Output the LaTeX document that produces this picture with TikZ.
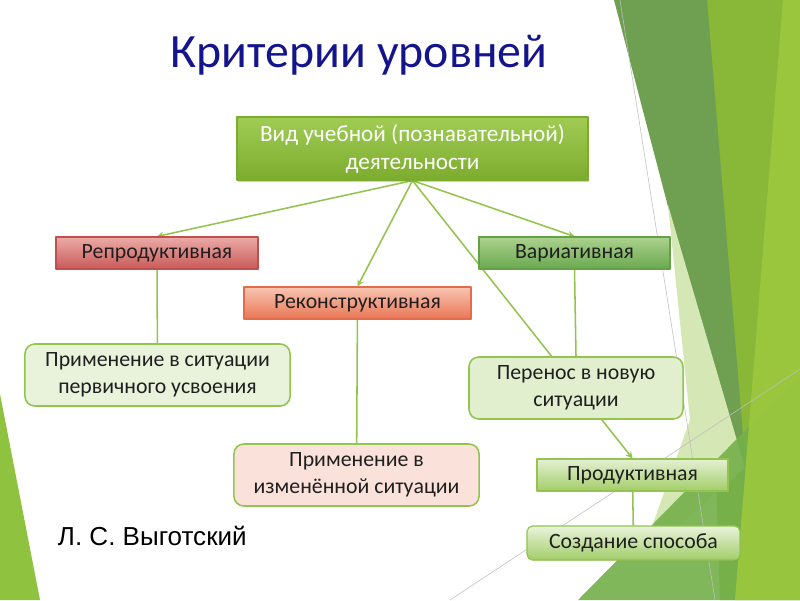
\documentclass[tikz,border=0pt]{standalone}
\usepackage{fontspec}
\setmainfont{Carlito}
\newfontfamily\authorfont{Liberation Sans}
\usetikzlibrary{arrows, calc, shadows}
\pgfdeclarelayer{deco}
\pgfdeclarelayer{edges}
\pgfsetlayers{deco,edges,main}
\definecolor{navy}{RGB}{20,20,140}
\definecolor{lgreen}{RGB}{146,196,78}
\definecolor{dband}{RGB}{111,159,80}
\definecolor{bright}{RGB}{137,183,55}
\definecolor{lime}{RGB}{156,200,62}
\definecolor{midg}{RGB}{116,176,74}
\definecolor{pale}{RGB}{213,231,181}
\definecolor{strip}{RGB}{143,194,62}
\definecolor{reprtop}{RGB}{236,170,168}
\definecolor{reprbot}{RGB}{200,90,87}
\definecolor{reprline}{RGB}{192,80,77}
\definecolor{recontop}{RGB}{248,197,178}
\definecolor{reconbot}{RGB}{233,118,84}
\definecolor{reconline}{RGB}{228,108,74}
\definecolor{vartop}{RGB}{172,210,142}
\definecolor{varbot}{RGB}{106,168,79}
\definecolor{varline}{RGB}{100,160,70}
\definecolor{toptop}{RGB}{160,204,84}
\definecolor{topbot}{RGB}{124,172,46}
\tikzset{
box/.style={draw, line width=0.8pt, align=center, inner sep=2pt, text=black!88, font=\fontsize{15.5}{19}\selectfont},
flat/.style={box, drop shadow={opacity=0.25, shadow xshift=0.6pt, shadow yshift=-0.8pt}},
leaf/.style={box, rounded corners=7pt, draw=lgreen, line width=1.1pt},
link/.style={draw=lgreen, line width=1.1pt}
}
\begin{document}
\begin{tikzpicture}[x=0.025cm,y=-0.025cm,line join=round,>=stealth]
\useasboundingbox (0,0) rectangle (800,600);
\begin{pgfonlayer}{deco}
\fill[white] (0,0) rectangle (800,600);
\fill[bright] (700,0)--(800,0)--(800,600)--(720,600)--cycle;
\fill[dband] (614,0)--(707,0)--(750,520)--cycle;
\fill[pale] (668,205)--(745,468)--(640,560)--(690,420)--cycle;
\fill[midg, opacity=0.9] (578,600)--(800,375)--(800,600)--cycle;
\fill[lime, opacity=0.9] (783,0)--(800,0)--(800,600)--(735,600)--cycle;
\fill[strip] (0,394)--(40,600)--(0,600)--cycle;
\draw[black!25, line width=0.4pt] (620,0)--(715,600) (450,600)--(800,369);
\end{pgfonlayer}
\node[text=navy, font=\fontsize{34}{40}\selectfont] (title) at (359,55) {Критерии уровней};
\node[flat, draw=topbot, top color=toptop, bottom color=topbot, text=white, font=\fontsize{16.5}{20}\selectfont, minimum width=8.775cm, minimum height=1.575cm, drop shadow={opacity=0.35, shadow xshift=1pt, shadow yshift=-1.5pt}] (top) at (412.5,148.5) {Вид учебной (познавательной)\\деятельности};
\node[flat, draw=reprline, top color=reprtop, bottom color=reprbot, minimum width=5.05cm, minimum height=0.8cm] (repr) at (157,253) {Репродуктивная};
\node[flat, draw=reconline, top color=recontop, bottom color=reconbot, minimum width=5.675cm, minimum height=0.8cm] (recon) at (357.5,303) {Реконструктивная};
\node[flat, draw=varline, top color=vartop, bottom color=varbot, minimum width=4.775cm, minimum height=0.8cm] (var) at (574.5,253) {Вариативная};
\node[leaf, fill=lgreen!20!white, minimum width=6.625cm, minimum height=1.55cm] (appl1) at (157.5,375) {Применение в ситуации\\первичного усвоения};
\node[leaf, fill=reconline!20!white, minimum width=6.125cm, minimum height=1.55cm] (appl2) at (356.5,475) {Применение в\\изменённой ситуации};
\node[leaf, fill=lgreen!27!white, minimum width=5.35cm, minimum height=1.55cm] (trans) at (576,388) {Перенос в новую\\ситуации};
\node[flat, draw=lgreen, top color=lgreen!25!white, bottom color=lgreen!85!white, minimum width=4.775cm, minimum height=0.8cm] (prod) at (632.5,475) {Продуктивная};
\node[flat, rounded corners=4pt, draw=lgreen, top color=lgreen!20!white, bottom color=lgreen!85!white, minimum width=5.325cm, minimum height=0.85cm] (create) at (633.5,543) {Создание способа};
\node[anchor=base west, font=\authorfont\fontsize{18.5}{22}\selectfont] (author) at (53,545) {Л. С. Выготский};
\begin{pgfonlayer}{edges}
\draw[link,->] (top.south)--(repr.north);
\draw[link,->] (top.south)--(recon.north);
\draw[link,->] (top.south)--(var.north);
\draw[link,->] (top.south)--(prod.north);
\draw[link] (repr)--(appl1);
\draw[link] (recon)--(appl2);
\draw[link] (var.south)--(trans.north);
\draw[link] (prod)--(create);
\end{pgfonlayer}
\end{tikzpicture}
\end{document}
